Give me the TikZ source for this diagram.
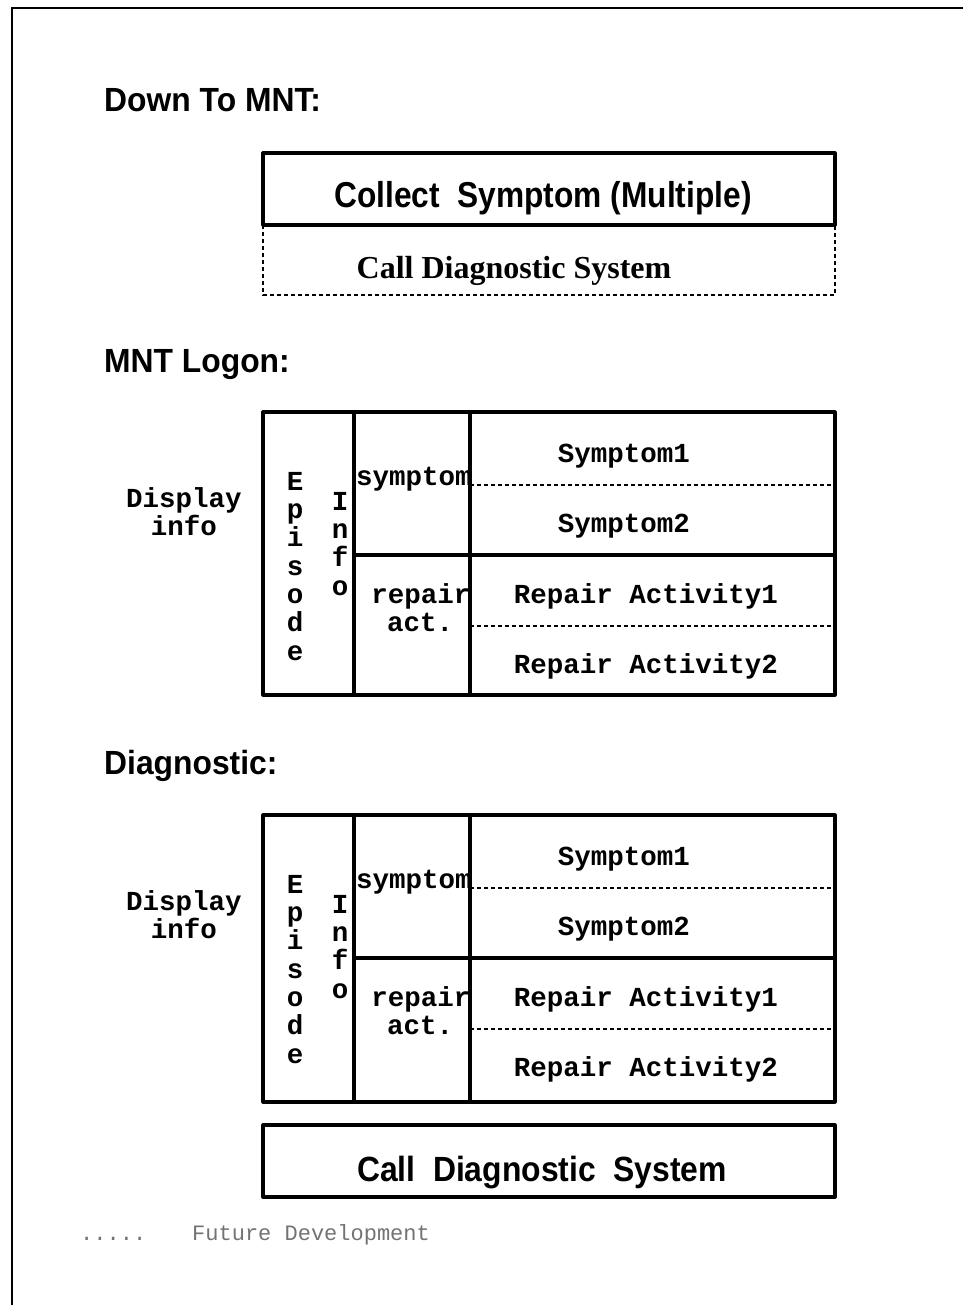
\documentclass[tikz,border=0pt]{standalone}
\usepackage{fontspec}
\setmainfont{Liberation Serif}
\newfontfamily\hvfont{Liberation Sans}
\newfontfamily\courfont{Liberation Mono}
\begin{document}
\begin{tikzpicture}[x=1pt,y=-1pt,
  heading/.style={font=\hvfont\bfseries\fontsize{33.5}{33.5}\selectfont, anchor=base west, inner sep=0, xscale=0.95},
  boxtext/.style={font=\hvfont\bfseries\fontsize{35}{35}\selectfont, anchor=base, inner sep=0, xscale=0.91},
  frame/.style={line width=3.2pt, line join=round},
  dotline/.style={line width=1.8pt, dash pattern=on 4pt off 3pt},
  mono/.style={font=\courfont\bfseries\fontsize{27.5}{28.3}\selectfont, anchor=base, inner sep=0},
  vstack/.style={font=\courfont\bfseries\fontsize{27.5}{28.3}\selectfont, inner sep=0, align=center},
  pics/infotab/.style={code={
    % outer frame and column rules
    \draw[frame] (0,0) rectangle (572,#1);
    \draw[frame] (91,0) -- (91,#1);
    \draw[frame] (207,0) -- (207,#1);
    \draw[frame] (91,143) -- (572,143);
    \draw[dotline] (207,73) -- (572,73);
    \draw[dotline] (207,214) -- (572,214);
    % labels
    \node[mono] (-disp) at (-79,95) {Display};
    \node[mono] (-info) at (-79,123) {info};
    \node[vstack, anchor=north] (-epi) at (32,60) {E\\p\\i\\s\\o\\d\\e};
    \node[vstack, anchor=north] (-inf) at (77,80) {I\\n\\f\\o};
    \node[mono] (-sym) at (151,73) {symptom};
    \node[mono] (-rep) at (158,191) {repair};
    \node[mono] (-act) at (157,219) {act.};
    \node[mono] (-s1) at (361,50) {Symptom1};
    \node[mono] (-s2) at (361,120) {Symptom2};
    \node[mono] (-r1) at (383,191) {Repair Activity1};
    \node[mono] (-r2) at (383,261) {Repair Activity2};
  }}
]
\useasboundingbox (0,0) rectangle (963,1305);
% page rule
\draw[line width=2.2pt] (12,1305) -- (12,8) -- (963,8);

% Down To MNT
\node[heading] (h1) at (104,112) {Down To MNT:};
\draw[frame] (263,153) rectangle (835,225);
\node[boxtext, font=\hvfont\bfseries\fontsize{36}{36}\selectfont, xscale=0.88/0.91] (collect) at (543,208) {Collect\ \ Symptom (Multiple)};
\draw[dotline] (263,225) -- (263,295) -- (835,295) -- (835,225);
\node[font=\bfseries\fontsize{32}{32}\selectfont, anchor=base, inner sep=0] (call1) at (514,279) {Call Diagnostic System};

% MNT Logon
\node[heading] (h2) at (104,372) {MNT Logon:};
\pic (ta) at (263,412) {infotab=283};

% Diagnostic
\node[heading] (h3) at (104,774) {Diagnostic:};
\pic (tb) at (263,815) {infotab=287};
\draw[frame] (263,1125) rectangle (835,1197);
\node[boxtext] (call2) at (542,1181) {Call\ \ Diagnostic\ \ System};

% legend
\node[font=\courfont\fontsize{22}{22}\selectfont, text=black!55, anchor=base west, inner sep=0] (dots) at (80,1240) {.....};
\node[font=\courfont\fontsize{22}{22}\selectfont, text=black!55, anchor=base west, inner sep=0] (future) at (192,1240) {Future Development};
\end{tikzpicture}
\end{document}
